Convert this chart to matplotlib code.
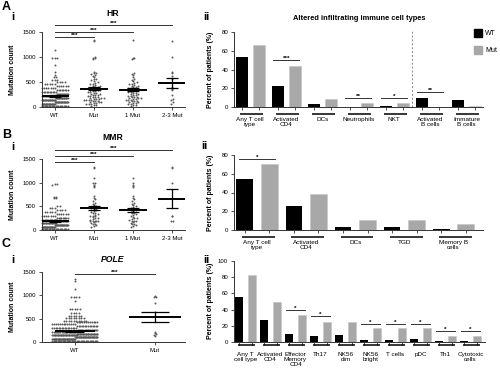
import numpy as np
import matplotlib
matplotlib.use('Agg')
import matplotlib.pyplot as plt
from matplotlib.patches import Patch
import matplotlib.transforms as mtransforms

plt.rcParams['font.family'] = ['Liberation Sans', 'DejaVu Sans']

W, H = 500, 374

# ---------------- data ----------------
scatter_labels_4 = ['WT', 'Mut', '1 Mut', '2-3 Mut']
scatter_labels_2 = ['WT', 'Mut']

# HR (A-i): WT column given as row levels and number of patients per row
hr_wt_levels = [20, 60, 100, 140, 180, 220, 260, 300, 340, 380, 420, 460, 500, 540, 600, 640, 700, 840, 980, 1140]
hr_wt_counts = [20, 22, 22, 20, 18, 15, 12, 10, 8, 7, 6, 5, 4, 3, 2, 1, 1, 1, 3, 1]
hr_one_mut = [1340, 990, 975, 960, 690, 670, 650, 600, 570, 540, 520, 500, 490, 470,
              460, 440, 430, 420, 410, 400, 390, 380, 370, 360, 350, 340, 330, 320,
              310, 300, 290, 280, 270, 260, 250, 240, 230, 220, 210, 200, 190, 180,
              170, 160, 150, 140, 130, 120, 110, 100, 90, 80, 70, 60, 40, 50, 30,
              120, 150, 180, 200]
hr_two_three_mut = [1320, 1000, 700, 690, 620, 560, 400, 370, 340, 240, 170, 150, 100, 60]

# MMR (B-i)
mmr_wt_levels = [20, 60, 100, 140, 180, 220, 260, 300, 340, 380, 420, 460, 500, 680, 700, 960, 980]
mmr_wt_counts = [20, 24, 24, 20, 16, 12, 9, 7, 6, 5, 4, 3, 2, 2, 2, 1, 2]
mmr_one_mut = [1100, 1000, 960, 930, 900, 720, 680, 650, 620, 560, 540, 520, 500, 480,
               470, 450, 440, 430, 420, 400, 380, 360, 350, 330, 310, 300, 280, 260,
               250, 240, 220, 200, 190, 180, 160, 150, 130, 120, 100, 80, 60]
mmr_two_three_mut = [1330, 1300, 1000, 300, 290, 200, 190]

# POLE (C-i)
pole_wt_levels = [20, 60, 100, 140, 180, 220, 260, 300, 340, 380, 420, 460, 510, 560, 620, 700, 870, 960, 1130, 1310, 1340]
pole_wt_counts = [36, 40, 40, 34, 28, 22, 18, 16, 14, 13, 12, 10, 8, 6, 4, 5, 1, 4, 1, 1, 1]
pole_mut = [990, 975, 960, 840, 640, 560, 220, 200, 170, 150, 130]

# A-ii
a_cats = ['Any T cell\ntype', 'Activated\nCD4', 'DCs', 'Neutrophils', 'NKT', 'Activated\nB cells', 'Immature\nB cells']
a_wt = [53, 22, 3.5, 0, 1, 10, 8]
a_mut = [66, 44, 9, 4.5, 4.5, 0, 1]
a_sig = [(1, 50, '***'), (3, 10, '**'), (4, 10, '*'), (5, 16, '**')]

# B-ii
b_cats = ['Any T cell\ntype', 'Activated\nCD4', 'DCs', 'TGD', 'Memory B\ncells']
b_wt = [54, 26, 3.5, 3.5, 1.5]
b_mut = [70, 38, 10.5, 10.5, 6]
b_sig = [(0, 76, '*')]

# C-ii
c_cats = ['Any T\ncell type', 'Activated\nCD4', 'Effector\nMemory\nCD4', 'Th17', 'NK56\ndim',
          'NK56\nbright', 'T cells', 'pDC', 'Th1', 'Cytotoxic\ncells']
c_wt = [55, 27, 10, 7, 9, 3, 3, 4, 1, 1]
c_mut = [83, 50, 33, 25, 25, 17, 17, 17, 8, 8]
c_sig = [(2, 39, '*'), (3, 32, '*'), (5, 22, '*'), (6, 22, '*'), (7, 22, '*'), (8, 14, '*'), (9, 14, '*')]

GREY_BAR = '#a8a8a8'
DOT = '#5a5a5a'
TICK_FS = 4.3
CAT_FS = 4.6


def box(l, t, r, b):
    return [l / W, 1 - b / H, (r - l) / W, (b - t) / H]


def ftext(x, y, s, **kw):
    fig.text(x / W, 1 - y / H, s, **kw)


def style_axes(ax):
    for s in ['top', 'right']:
        ax.spines[s].set_visible(False)
    for s in ['left', 'bottom']:
        ax.spines[s].set_linewidth(0.7)
        ax.spines[s].set_color('#333333')
    ax.tick_params(labelsize=TICK_FS, length=2.2, width=0.6, pad=2, color='#333333')


def column_scatter(ax, pos, values, binw, spacing, maxhalf):
    vals = np.sort(np.asarray(values, float))
    bins = np.round(vals / binw).astype(int)
    xs = np.empty_like(vals)
    for b in np.unique(bins):
        idx = np.where(bins == b)[0]
        n = len(idx)
        step = spacing
        if n > 1 and (n - 1) * spacing / 2 > maxhalf:
            step = 2 * maxhalf / (n - 1)
        xs[idx] = pos + (np.arange(n) - (n - 1) / 2) * step
    ax.scatter(xs, vals, s=2.0, color=DOT, linewidths=0, zorder=2, clip_on=False)


def mean_sem(ax, pos, values, mhalf, shalf):
    v = np.asarray(values, float)
    m = v.mean()
    se = v.std(ddof=1) / np.sqrt(len(v))
    ax.plot([pos - mhalf, pos + mhalf], [m, m], color='black', lw=1.4, zorder=4, solid_capstyle='butt')
    for y in (m - se, m + se):
        ax.plot([pos - shalf, pos + shalf], [y, y], color='black', lw=0.9, zorder=4, solid_capstyle='butt')
    ax.plot([pos, pos], [m - se, m + se], color='black', lw=0.9, zorder=4)


def sig_line(ax, x0, x1, y, stars, fs=4.6):
    ax.plot([x0, x1], [y, y], color='#333333', lw=0.7, clip_on=False)
    ax.annotate(stars, ((x0 + x1) / 2, y), xytext=(0, -0.6), textcoords='offset points',
                ha='center', va='bottom', fontsize=fs, fontweight='bold', annotation_clip=False)


def scatter_panel(ax, groups, labels, xlim, spacing, maxhalf, mhalf, shalf, sigs):
    for i, g in enumerate(groups):
        column_scatter(ax, i, g, 40, spacing, maxhalf)
        mean_sem(ax, i, g, mhalf, shalf)
    ax.set_xlim(*xlim)
    ax.set_ylim(0, 1500)
    ax.set_yticks([0, 500, 1000, 1500])
    ax.set_xticks(range(len(labels)))
    ax.set_xticklabels(labels, fontsize=CAT_FS)
    style_axes(ax)
    for j, y in sigs:
        sig_line(ax, 0, j, y, '***')


def bar_panel(ax, cats, wt, mut, xlim, ymax, width, off, under_y, sigs, ticks):
    x = np.arange(len(cats))
    ax.bar(x - off, wt, width, color='black', zorder=2)
    ax.bar(x + off, mut, width, color=GREY_BAR, edgecolor='#c4c4c4', linewidth=0.4, zorder=2)
    ax.set_xlim(*xlim)
    ax.set_ylim(0, ymax)
    ax.set_yticks(ticks)
    style_axes(ax)
    ax.set_xticks(np.concatenate([x - off, x + off]))
    ax.set_xticklabels([])
    ax.set_xticks(x, minor=True)
    ax.set_xticklabels(cats, minor=True, fontsize=CAT_FS, linespacing=1.05)
    ax.tick_params(axis='x', which='minor', length=0, pad=7)
    trans = mtransforms.blended_transform_factory(ax.transData, ax.transAxes)
    for xi in x:
        ax.plot([xi - off - 0.05, xi + off + 0.12], [under_y, under_y], color='black',
                lw=1.1, transform=trans, clip_on=False, solid_capstyle='butt')
    for i, y, s in sigs:
        sig_line(ax, i - off - 0.12, i + off + 0.12, y, s)


fig = plt.figure(figsize=(W / 100, H / 100), dpi=100)

# ---- A-i ----
ax = fig.add_axes(box(42, 32, 185, 107))
hr_wt = np.repeat(hr_wt_levels, hr_wt_counts)
hr_mut = hr_one_mut + hr_two_three_mut
scatter_panel(ax, [hr_wt, hr_mut, hr_one_mut, hr_two_three_mut], scatter_labels_4,
              (-0.33, 3.33), 0.064, 0.33, 0.36, 0.16, [(1, 1394), (2, 1506), (3, 1640)])

# ---- B-i ----
ax = fig.add_axes(box(42, 159, 185, 230))
mmr_wt = np.repeat(mmr_wt_levels, mmr_wt_counts)
mmr_mut = mmr_one_mut + mmr_two_three_mut
scatter_panel(ax, [mmr_wt, mmr_mut, mmr_one_mut, mmr_two_three_mut], scatter_labels_4,
              (-0.33, 3.33), 0.064, 0.33, 0.36, 0.16, [(1, 1436), (2, 1570), (3, 1697)])

# ---- C-i ----
ax = fig.add_axes(box(42, 272, 185, 342))
pole_wt = np.repeat(pole_wt_levels, pole_wt_counts)
column_scatter(ax, 0, pole_wt, 40, 0.031, 0.28)
mean_sem(ax, 0, pole_wt, 0.25, 0.12)
column_scatter(ax, 1, pole_mut, 40, 0.031, 0.28)
mean_sem(ax, 1, pole_mut, 0.32, 0.17)
ax.set_xlim(-0.41, 1.375)
ax.set_ylim(0, 1500)
ax.set_yticks([0, 500, 1000, 1500])
ax.set_xticks([0, 1])
ax.set_xticklabels(scatter_labels_2, fontsize=CAT_FS)
style_axes(ax)
sig_line(ax, 0, 1, 1465, '***')

# ---- A-ii ----
ax = fig.add_axes(box(234, 32, 483, 107))
bar_panel(ax, a_cats, a_wt, a_mut, (-0.45, 6.46), 80, 0.33, 0.24, -0.093, a_sig, [0, 20, 40, 60, 80])
ax.plot([4.5, 4.5], [0, 82], ls=(0, (2, 2)), color='#888888', lw=0.7, clip_on=False)
fig.legend(handles=[Patch(color='black', label='WT'), Patch(color=GREY_BAR, label='Mut')],
           loc='upper left', bbox_to_anchor=(474 / W, 1 - 29 / H), frameon=False,
           fontsize=5, handlelength=1.1, handleheight=1.3, labelspacing=1.3,
           handletextpad=0.5, borderpad=0, borderaxespad=0)

# ---- B-ii ----
ax = fig.add_axes(box(234, 155, 483, 230))
bar_panel(ax, b_cats, b_wt, b_mut, (-0.47, 4.6), 80, 0.34, 0.25, -0.089, b_sig, [0, 20, 40, 60, 80])

# ---- C-ii ----
ax = fig.add_axes(box(234, 261, 485, 342))
bar_panel(ax, c_cats, c_wt, c_mut, (-0.46, 9.58), 100, 0.32, 0.26, -0.04, c_sig, [0, 20, 40, 60, 80, 100])

# ---- labels ----
big = dict(fontsize=9, fontweight='bold', ha='left', va='center')
sub = dict(fontsize=8, fontweight='bold', ha='left', va='center')
ftext(2, 7, 'A', **big)
ftext(2, 135, 'B', **big)
ftext(2, 244, 'C', **big)
ftext(11, 17, 'i', **sub)
ftext(11, 147, 'i', **sub)
ftext(11, 260, 'i', **sub)
ftext(203, 17, 'ii', **sub)
ftext(201, 146, 'ii', **sub)
ftext(203, 260, 'ii', **sub)

ftext(113, 14, 'HR', fontsize=6.2, fontweight='bold', ha='center', va='center')
ftext(113, 137, 'MMR', fontsize=6.2, fontweight='bold', ha='center', va='center')
ftext(113, 259, 'POLE', fontsize=6.2, fontweight='bold', style='italic', ha='center', va='center')
ftext(359, 19, 'Altered infiltrating immune cell types', fontsize=5.4, fontweight='bold',
      ha='center', va='center')

yl = dict(fontsize=5, fontweight='bold', rotation=90, ha='center', va='center')
ftext(13, 70, 'Mutation count', **yl)
ftext(13, 195, 'Mutation count', **yl)
ftext(13, 307, 'Mutation count', **yl)
ftext(210, 70, 'Percent of patients (%)', **yl)
ftext(210, 193, 'Percent of patients (%)', **yl)
ftext(210, 301, 'Percent of patients (%)', **yl)

fig.savefig('out.png', dpi=100)
